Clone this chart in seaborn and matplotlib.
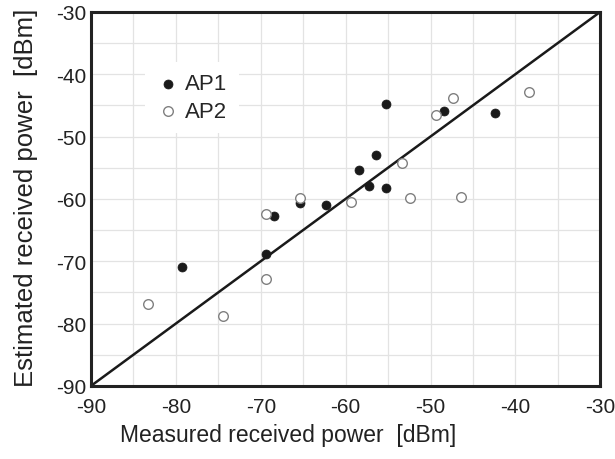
import matplotlib.pyplot as plt
import numpy as np
import seaborn as sns
from matplotlib.ticker import MultipleLocator

# --- DATA (measured vs estimated received power, dBm) ---
ap1_measured = [-79.3, -69.4, -68.4, -65.4, -62.3, -58.4, -57.3, -56.4, -55.3, -55.3, -48.4, -42.4]
ap1_estimated = [-71.0, -68.8, -62.7, -60.6, -61.0, -55.3, -57.9, -53.0, -58.3, -44.8, -45.9, -46.2]

ap2_measured = [-83.3, -74.4, -69.4, -69.4, -65.4, -59.4, -53.3, -52.4, -49.4, -47.4, -46.4, -38.4]
ap2_estimated = [-76.8, -78.8, -72.9, -62.4, -59.9, -60.5, -54.3, -59.9, -46.6, -43.8, -59.7, -42.8]

axis_range = [-90, -30]

# --- STYLE ---
sns.set_style("white")
plt.rcParams['font.family'] = ['Liberation Sans', 'DejaVu Sans']
plt.rcParams['axes.unicode_minus'] = False

fig = plt.figure(figsize=(6.15, 4.6), dpi=100)
ax = fig.add_axes([0.148, 0.159, 0.828, 0.813])

ax.plot(axis_range, axis_range, color='#1a1a1a', lw=1.8, zorder=2)

sns.scatterplot(x=ap1_measured, y=ap1_estimated, ax=ax, s=42, color='#1a1a1a',
                edgecolor='#1a1a1a', linewidth=0.5, label='AP1', zorder=3)
sns.scatterplot(x=ap2_measured, y=ap2_estimated, ax=ax, s=48, facecolor='white',
                edgecolor='#808080', linewidth=1.0, label='AP2', zorder=3)

ax.set_xlim(axis_range)
ax.set_ylim(axis_range)
ax.xaxis.set_major_locator(MultipleLocator(10))
ax.yaxis.set_major_locator(MultipleLocator(10))
ax.xaxis.set_minor_locator(MultipleLocator(5))
ax.yaxis.set_minor_locator(MultipleLocator(5))
ax.grid(True, which='both', color='#e3e3e3', lw=0.9, zorder=0)
ax.set_axisbelow(True)

ax.tick_params(axis='both', which='major', direction='in', length=6, width=2,
               labelsize=15, color='#222222', labelcolor='#222222',
               top=False, right=False)
ax.tick_params(axis='x', which='major', pad=8)
ax.tick_params(axis='y', which='major', pad=3)
ax.tick_params(axis='both', which='minor', direction='in', length=4, width=1.5,
               color='#222222', top=False, right=False)

for sp in ax.spines.values():
    sp.set_linewidth(2.2)
    sp.set_color('#222222')

ax.set_xlabel('Measured received power  [dBm]', fontsize=16.5, color='#222222')
ax.set_ylabel('Estimated received power  [dBm]', fontsize=18.5, color='#222222')
ax.xaxis.set_label_coords(0.387, -0.098)
ax.yaxis.set_label_coords(-0.104, 0.505)

leg = ax.legend(loc='upper left', bbox_to_anchor=(0.085, 0.895), frameon=True, fontsize=16,
                handletextpad=0.3, labelspacing=0.3, borderpad=0.5, handlelength=1.0,
                fancybox=False)
leg.get_frame().set_edgecolor('none')
leg.get_frame().set_facecolor('white')
leg.get_frame().set_alpha(1)

plt.savefig('out.png', dpi=100)
